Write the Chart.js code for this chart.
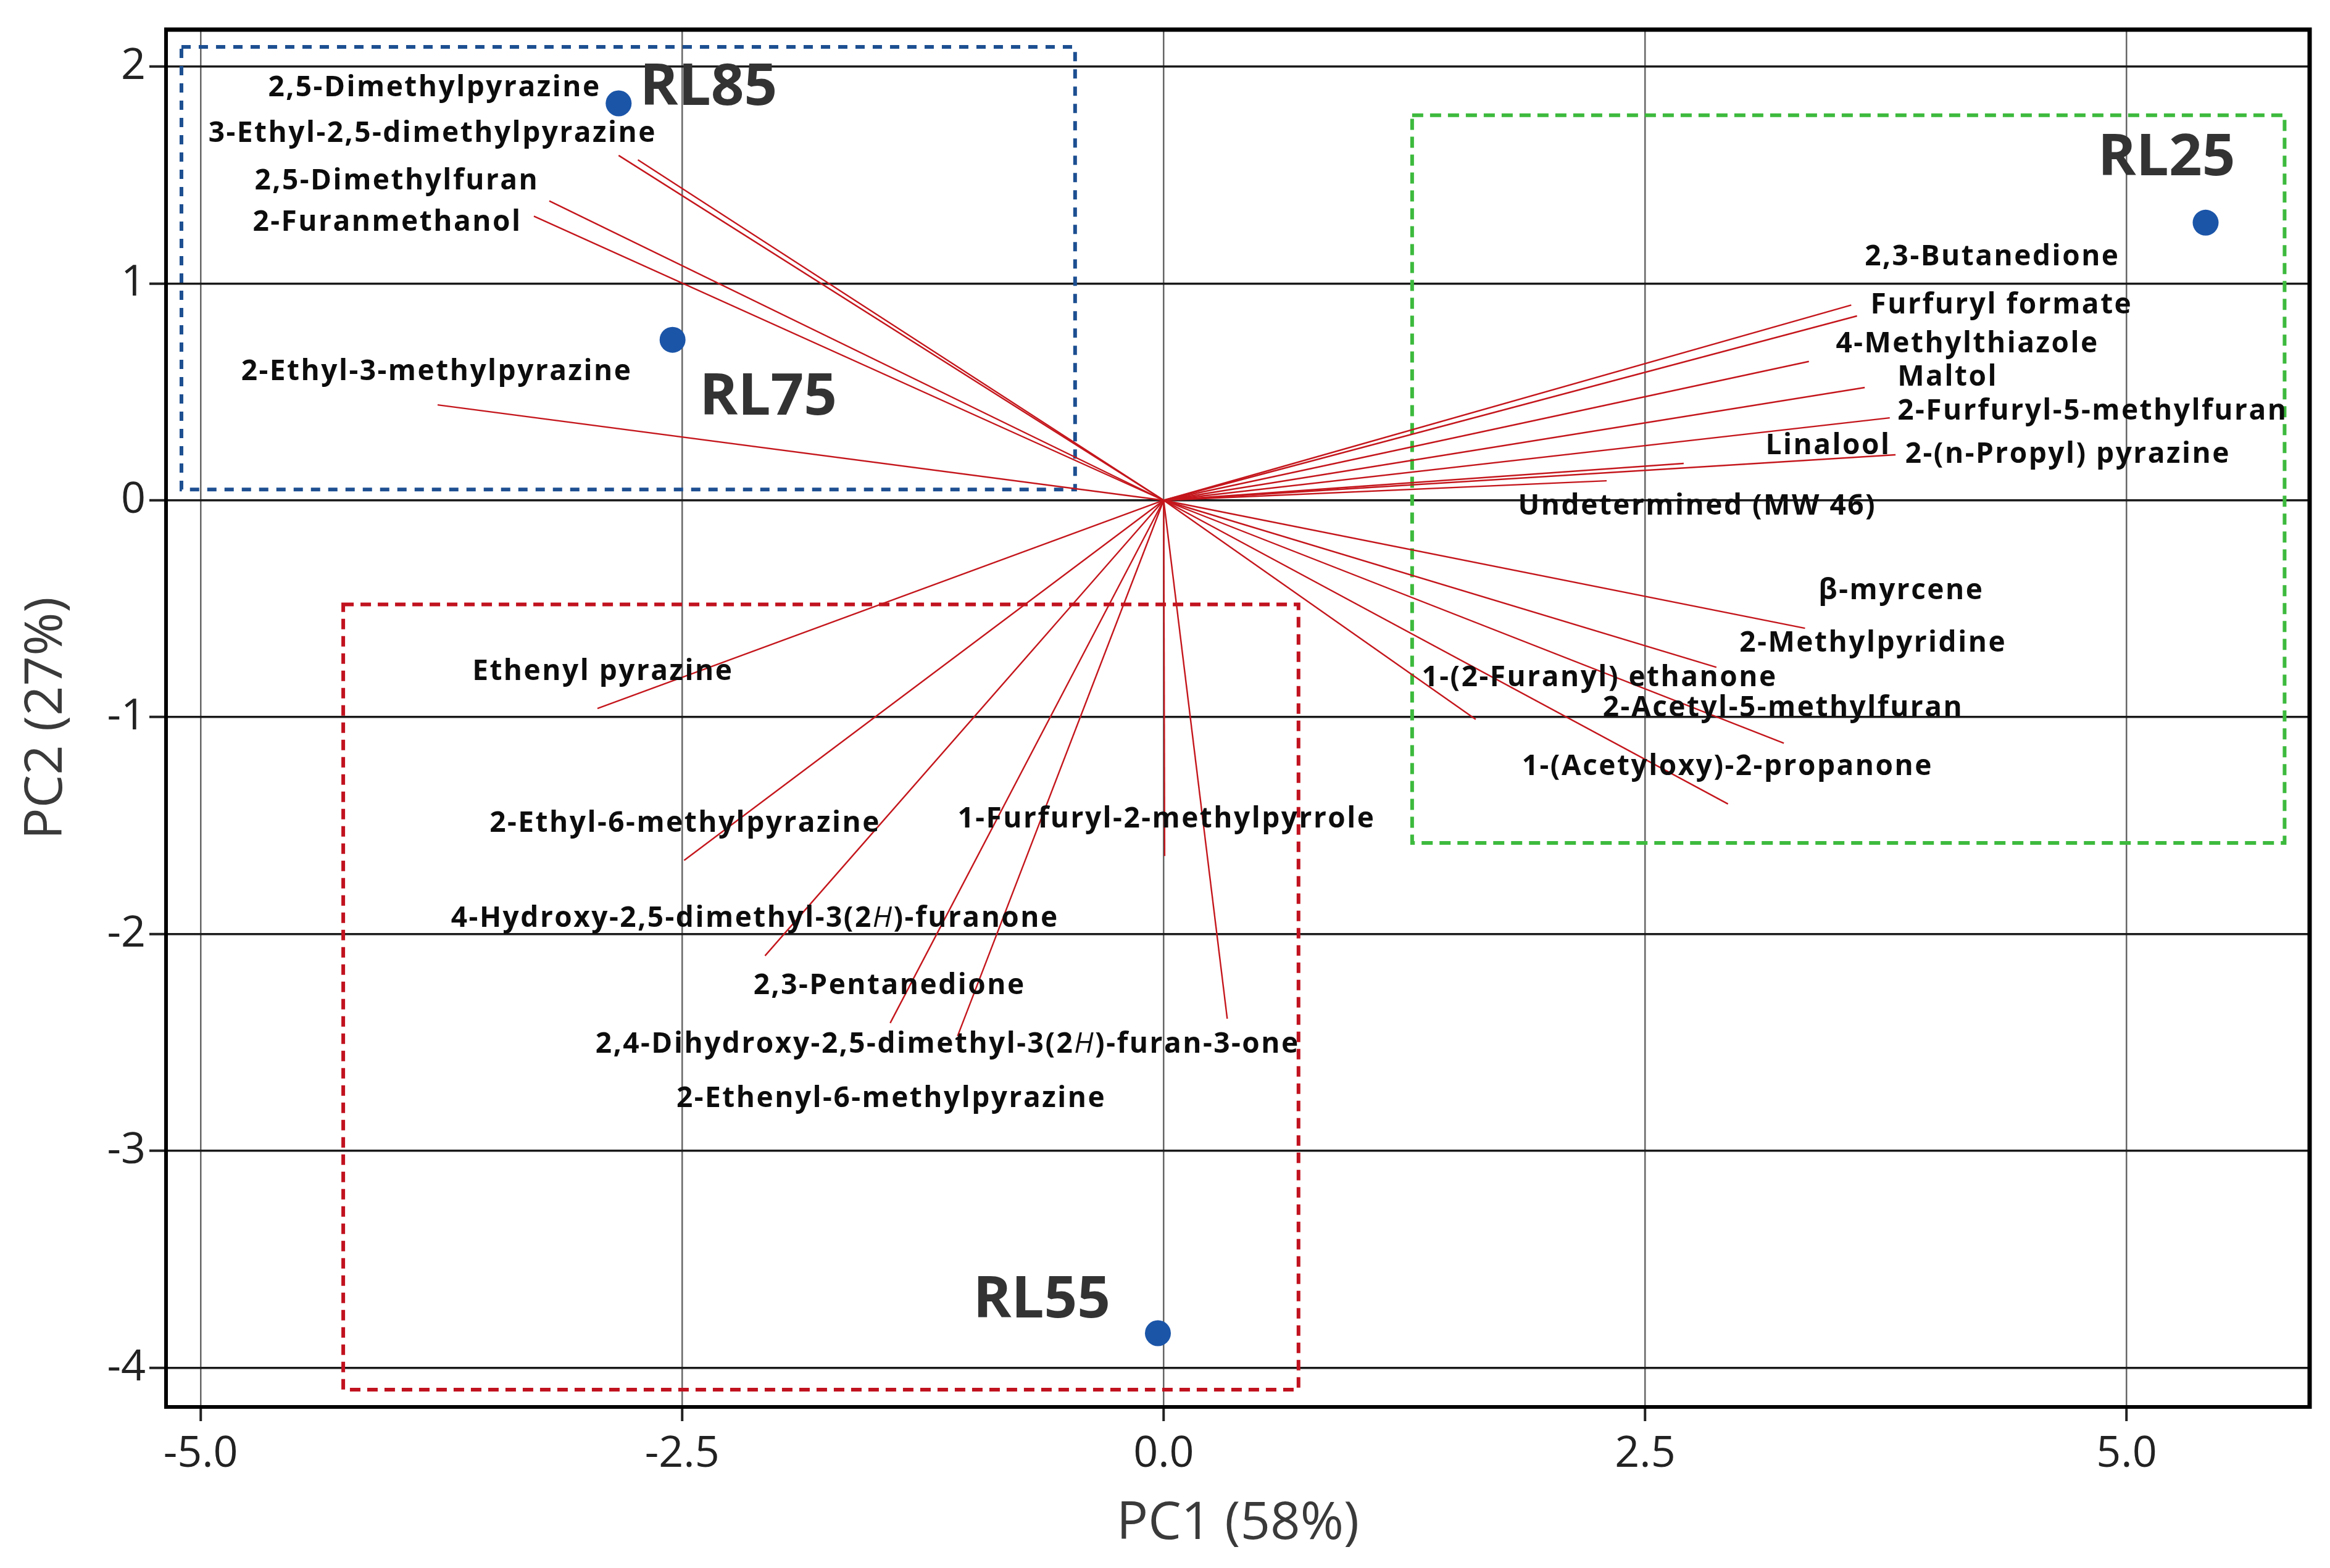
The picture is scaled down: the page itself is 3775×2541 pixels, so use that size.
<!DOCTYPE html>
<html lang="en">
<head>
  <meta charset="UTF-8">
  <title>PCA biplot</title>
  <script src="https://cdn.jsdelivr.net/npm/chart.js"></script>
  <style>
    body {
      margin: 0;
      background: #fff;
    }

    #wrap {
      width: 3775px;
      height: 2541px;
    }
  </style>
</head>
<body>

  <div id="wrap">
    <canvas id="biplot" width="3775" height="2541"></canvas>
  </div>

  <script>
    // sample scores
    const sampleNames = ['RL85', 'RL75', 'RL25', 'RL55'];
    const sampleX = [-2.83, -2.55, 5.41, -0.03];
    const sampleY = [1.83, 0.74, 1.28, -3.84];
    const sampleLabelX = [-2.72, -2.41, 4.85, -0.99];
    const sampleLabelY = [1.90, 0.47, 1.575, -3.69];

    // loadings (vector tips)
    const compounds = [
      '2,5-Dimethylpyrazine', '3-Ethyl-2,5-dimethylpyrazine', '2,5-Dimethylfuran', '2-Furanmethanol',
      '2-Ethyl-3-methylpyrazine', '2,3-Butanedione', 'Furfuryl formate', '4-Methylthiazole', 'Maltol',
      '2-Furfuryl-5-methylfuran', 'Linalool', '2-(n-Propyl) pyrazine', 'Undetermined (MW 46)',
      'β-myrcene', '2-Methylpyridine', '1-(2-Furanyl) ethanone', '2-Acetyl-5-methylfuran',
      '1-(Acetyloxy)-2-propanone', 'Ethenyl pyrazine', '2-Ethyl-6-methylpyrazine',
      '1-Furfuryl-2-methylpyrrole', '4-Hydroxy-2,5-dimethyl-3(2H)-furanone', '2,3-Pentanedione',
      '2,4-Dihydroxy-2,5-dimethyl-3(2H)-furan-3-one', '2-Ethenyl-6-methylpyrazine'
    ];
    const loadX = [-2.83, -2.73, -3.19, -3.27, -3.77, 3.57, 3.60, 3.35, 3.64, 3.77, 2.70, 3.80, 2.30,
                   3.33, 2.87, 1.62, 3.22, 2.93, -2.94, -2.49, 0.005, -2.07, -1.42, -1.07, 0.33];
    const loadY = [1.59, 1.57, 1.38, 1.31, 0.44, 0.90, 0.85, 0.64, 0.52, 0.38, 0.17, 0.21, 0.09,
                   -0.59, -0.77, -1.01, -1.12, -1.40, -0.96, -1.66, -1.64, -2.10, -2.41, -2.47, -2.39];
    // where each compound name starts (left edge, middle)
    const labelX = [-4.65, -4.96, -4.72, -4.73, -4.79, 3.64, 3.67, 3.49, 3.81, 3.81, 3.125, 3.85, 1.84,
                    3.40, 2.99, 1.34, 2.28, 1.86, -3.59, -3.50, -1.07, -3.70, -2.13, -2.95, -2.53];
    const labelY = [1.90, 1.69, 1.47, 1.28, 0.59, 1.12, 0.90, 0.72, 0.565, 0.41, 0.25, 0.21, -0.03,
                    -0.42, -0.66, -0.82, -0.96, -1.23, -0.79, -1.49, -1.47, -1.93, -2.24, -2.51, -2.76];

    // dashed group boxes (data units)
    const groupBoxes = [
      { x0: -5.10, x1: -0.46, y0: 0.05, y1: 2.09, color: '#1d4f91', dash: [15, 13] },
      { x0: 1.29, x1: 5.82, y0: -1.58, y1: 1.775, color: '#3dba3d', dash: [18, 11] },
      { x0: -4.26, x1: 0.70, y0: -4.10, y1: -0.48, color: '#c1121f', dash: [17, 11] }
    ];

    const xTicks = [-5, -2.5, 0, 2.5, 5];
    const yTicks = [2, 1, 0, -1, -2, -3, -4];

    const FONT = "'Open Sans', 'Liberation Sans', sans-serif";

    // draw a label, putting the H of "(2H)" in italics
    function drawName(ctx, text, px, py, size) {
      const parts = text.split(/(?<=\(2)(H)(?=\))/);
      let cx = px;
      parts.forEach(part => {
        ctx.font = (part === 'H' ? 'italic ' : 'bold ') + size + 'px ' + FONT;
        ctx.fillText(part, cx, py);
        cx += ctx.measureText(part).width;
      });
    }

    const biplotDecor = {
      id: 'biplotDecor',
      beforeDatasetsDraw(chart) {
        const { ctx, scales: { x, y } } = chart;
        ctx.save();
        ctx.lineWidth = 6;
        groupBoxes.forEach(b => {
          const l = x.getPixelForValue(b.x0);
          const r = x.getPixelForValue(b.x1);
          const t = y.getPixelForValue(b.y1);
          const btm = y.getPixelForValue(b.y0);
          ctx.strokeStyle = b.color;
          ctx.setLineDash(b.dash);
          ctx.strokeRect(l, t, r - l, btm - t);
        });
        ctx.restore();
      },
      afterDatasetsDraw(chart) {
        const { ctx, chartArea, scales: { x, y } } = chart;
        ctx.save();

        // top and right frame
        ctx.strokeStyle = '#000';
        ctx.lineWidth = 7;
        ctx.beginPath();
        ctx.moveTo(chartArea.left - 3, chartArea.top);
        ctx.lineTo(chartArea.right, chartArea.top);
        ctx.lineTo(chartArea.right, chartArea.bottom + 3);
        ctx.stroke();

        ctx.textBaseline = 'middle';
        ctx.textAlign = 'left';

        ctx.fillStyle = '#0d0d0d';
        ctx.letterSpacing = '2.5px';
        compounds.forEach((name, i) => {
          drawName(ctx, name, x.getPixelForValue(labelX[i]), y.getPixelForValue(labelY[i]), 46);
        });

        ctx.letterSpacing = '0px';
        ctx.fillStyle = '#333';
        ctx.font = 'bold 94px ' + FONT;
        sampleNames.forEach((name, i) => {
          ctx.fillText(name, x.getPixelForValue(sampleLabelX[i]), y.getPixelForValue(sampleLabelY[i]));
        });
        ctx.restore();
      }
    };

    const vectorSets = compounds.map((name, i) => ({
      label: name,
      data: [{ x: 0, y: 0 }, { x: loadX[i], y: loadY[i] }],
      showLine: true,
      borderColor: '#c4161c',
      borderWidth: 2.4,
      pointRadius: 0,
      fill: false,
      tension: 0
    }));

    const sampleSet = {
      label: 'Samples',
      data: sampleX.map((v, i) => ({ x: v, y: sampleY[i] })),
      backgroundColor: '#1b55a8',
      borderWidth: 0,
      pointRadius: 21
    };

    new Chart(document.getElementById('biplot').getContext('2d'), {
      type: 'scatter',
      data: { datasets: [sampleSet, ...vectorSets] },
      options: {
        responsive: false,
        animation: false,
        layout: { padding: { top: 38, right: 33, left: 0, bottom: 0 } },
        scales: {
          x: {
            type: 'linear',
            position: 'bottom',
            min: -5.18,
            max: 5.95,
            afterBuildTicks: scale => { scale.ticks = xTicks.map(v => ({ value: v })); },
            afterFit: scale => { scale.height = 261; },
            ticks: {
              callback: v => v.toFixed(1),
              font: { family: FONT, size: 70 },
              color: '#222',
              padding: 12,
              maxRotation: 0
            },
            grid: { color: '#666', lineWidth: 2.5, tickLength: 23, tickColor: '#222', tickWidth: 4 },
            border: { color: '#000', width: 6 },
            title: {
              display: true,
              text: 'PC1 (58%)',
              font: { family: FONT, size: 85 },
              color: '#3a3a3a',
              padding: { top: 0, bottom: 20 }
            }
          },
          y: {
            type: 'linear',
            min: -4.18,
            max: 2.17,
            afterBuildTicks: scale => { scale.ticks = yTicks.map(v => ({ value: v })); },
            afterFit: scale => { scale.width = 269; },
            ticks: {
              callback: v => String(v),
              font: { family: FONT, size: 70 },
              color: '#222',
              padding: 6
            },
            grid: { color: '#1a1a1a', lineWidth: 3.5, tickLength: 27, tickColor: '#222', tickWidth: 4 },
            border: { color: '#000', width: 6 },
            title: {
              display: true,
              text: 'PC2 (27%)',
              font: { family: FONT, size: 85 },
              color: '#3a3a3a',
              padding: { top: 25, bottom: 0 }
            }
          }
        },
        plugins: {
          legend: { display: false },
          tooltip: { enabled: false }
        }
      },
      plugins: [biplotDecor]
    });
  </script>

</body>
</html>
